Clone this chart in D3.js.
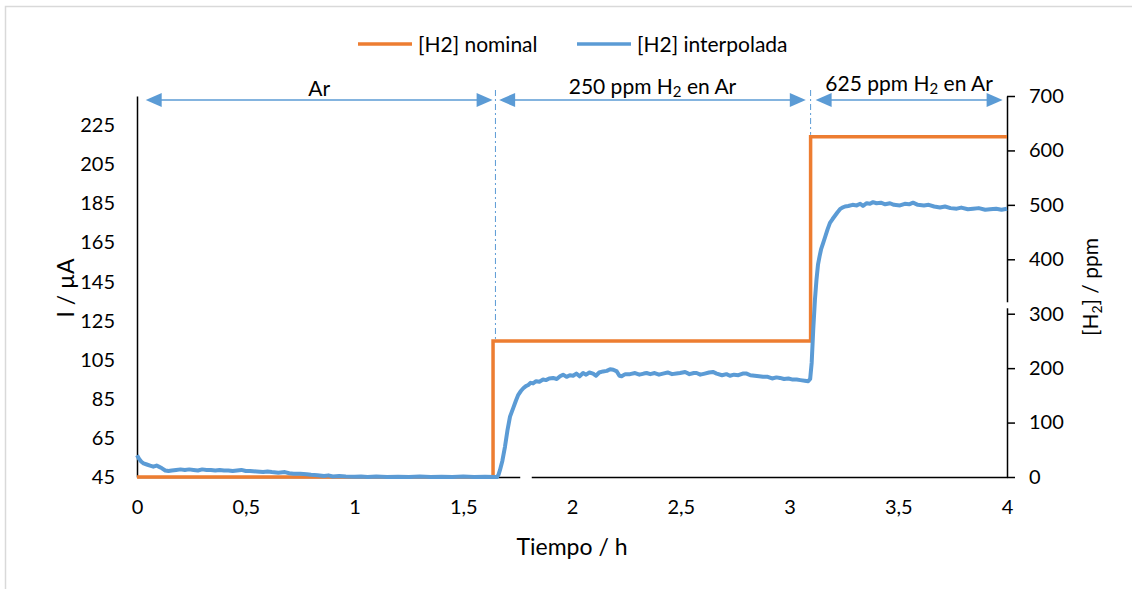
<!DOCTYPE html>
<html>
<head>
<meta charset="utf-8">
<script src="https://cdn.jsdelivr.net/npm/d3@7"></script>
<style>
  body { margin: 0; background: #fff; }
  svg text { font-family: Lato, Carlito, Calibri, sans-serif; fill: #000; }
</style>
</head>
<body>
<div class="chart"></div>
<script>
// [H2] nominal: step levels (ppm) starting at each time (h)
const nominalTime = [0, 1.637, 3.097, 4];
const nominalPpm = [0, 250, 625, 625];

// [H2] interpolada as [time (h), ppm]
const interpolada = [
  [0, 40], [0.01, 33], [0.02, 28], [0.03, 25], [0.045, 23], [0.06, 21], [0.075, 19], [0.09, 21],
  [0.1, 19], [0.115, 16], [0.13, 12], [0.145, 11], [0.16, 12], [0.18, 13], [0.2, 14], [0.22, 13],
  [0.24, 14], [0.26, 13], [0.28, 12], [0.3, 14], [0.32, 13], [0.34, 13], [0.36, 12], [0.38, 13],
  [0.4, 12], [0.42, 12], [0.44, 11], [0.46, 12], [0.48, 13], [0.5, 11], [0.52, 11], [0.55, 10],
  [0.58, 9], [0.6, 10], [0.62, 9], [0.65, 8], [0.68, 9], [0.7, 7], [0.72, 6], [0.75, 6],
  [0.78, 5], [0.8, 4], [0.83, 3], [0.86, 2], [0.88, 3], [0.9, 1], [0.93, 2], [0.96, 1],
  [1.0, 0.5], [1.03, 1], [1.06, 0], [1.1, 1], [1.15, 0], [1.2, 0.5], [1.25, 0], [1.3, 1],
  [1.35, 0], [1.4, 0.5], [1.45, 0], [1.5, 1], [1.55, 0], [1.6, 0.5], [1.645, 0], [1.655, 0],
  [1.662, 4], [1.669, 13], [1.68, 30], [1.692, 56], [1.703, 85], [1.715, 111], [1.73, 127], [1.742, 140],
  [1.753, 151], [1.765, 158], [1.776, 163], [1.788, 167], [1.799, 169], [1.81, 173], [1.821, 172], [1.835, 176],
  [1.85, 175], [1.867, 179], [1.88, 178], [1.895, 181], [1.913, 182], [1.93, 180], [1.945, 185], [1.959, 188],
  [1.975, 184], [1.99, 187], [2.005, 186], [2.02, 190], [2.035, 185], [2.051, 191], [2.065, 188], [2.08, 192],
  [2.097, 190], [2.11, 186], [2.125, 192], [2.143, 194], [2.16, 195], [2.175, 198], [2.19, 197], [2.206, 194],
  [2.218, 186], [2.228, 185], [2.245, 189], [2.267, 189], [2.29, 191], [2.31, 188], [2.33, 190], [2.343, 191],
  [2.36, 189], [2.38, 191], [2.4, 188], [2.418, 190], [2.44, 192], [2.46, 189], [2.48, 190], [2.497, 191],
  [2.52, 193], [2.54, 189], [2.56, 191], [2.573, 191], [2.59, 188], [2.61, 190], [2.63, 192], [2.648, 193],
  [2.665, 190], [2.69, 187], [2.71, 189], [2.726, 186], [2.745, 188], [2.765, 187], [2.785, 190], [2.803, 190],
  [2.82, 187], [2.84, 186], [2.86, 185], [2.878, 184], [2.9, 184], [2.92, 181], [2.94, 183], [2.956, 182],
  [2.975, 180], [2.995, 181], [3.015, 179], [3.033, 179], [3.05, 178], [3.07, 177], [3.086, 176], [3.095, 180],
  [3.102, 210], [3.109, 270], [3.117, 326], [3.124, 362], [3.131, 390], [3.138, 405], [3.145, 418], [3.155, 430],
  [3.163, 440], [3.175, 455], [3.186, 467], [3.198, 474], [3.209, 480], [3.22, 486], [3.232, 492], [3.243, 495],
  [3.255, 497], [3.27, 498], [3.29, 500], [3.309, 499], [3.325, 502], [3.338, 498], [3.355, 503], [3.37, 502],
  [3.384, 505], [3.4, 503], [3.42, 504], [3.44, 501], [3.462, 503], [3.48, 500], [3.508, 499], [3.53, 502],
  [3.55, 501], [3.568, 504], [3.59, 500], [3.618, 499], [3.64, 500], [3.665, 497], [3.692, 495], [3.715, 497],
  [3.74, 494], [3.769, 493], [3.79, 495], [3.82, 492], [3.844, 493], [3.87, 494], [3.9, 491], [3.922, 492],
  [3.95, 493], [3.975, 491], [4.0, 493]
];

// tick labels
const xTicks = [0, 0.5, 1, 1.5, 2, 2.5, 3, 3.5, 4];
const leftTicks = [45, 65, 85, 105, 125, 145, 165, 185, 205, 225];
const rightTicks = [0, 100, 200, 300, 400, 500, 600, 700];

// gas phases shown with arrows above the plot (times in h)
const phaseLabel = [["Ar"], ["250 ppm H", "2", " en Ar"], ["625 ppm H", "2", " en Ar"]];
const phaseStart = [0.04, 1.665, 3.12];
const phaseEnd = [1.635, 3.075, 3.98];
const changeTime = [1.648, 3.097];
const changePpm = [250, 625];

const legendNames = ["[H2] nominal", "[H2] interpolada"];
const colors = ["#ED7D31", "#5B9BD5"];

const W = 1132, H = 589;
const svg = d3.select(".chart").append("svg").attr("width", W).attr("height", H);

// outer chart-area border (only top/left visible in the frame)
svg.append("rect").attr("x", 5.5).attr("y", 6.5).attr("width", W + 20).attr("height", H + 20)
  .attr("fill", "none").attr("stroke", "#d9d9d9").attr("stroke-width", 1.5);

const x = d3.scaleLinear().domain([0, 4]).range([137, 1007]);
const yL = d3.scaleLinear().domain([45, 240]).range([477, 96]);
const yR = d3.scaleLinear().domain([0, 700]).range([477, 96]);

const fmt = (d) => String(d).replace(".", ",");

// axes
const gx = svg.append("g").attr("transform", `translate(0, ${yL.range()[0]})`)
  .call(d3.axisBottom(x).tickValues(xTicks).tickFormat(fmt).tickSize(0).tickPadding(23));
const gl = svg.append("g").attr("transform", `translate(${x(0)}, 0)`)
  .call(d3.axisLeft(yL).tickValues(leftTicks).tickSize(0).tickPadding(22));
const gr = svg.append("g").attr("transform", `translate(${x(4)}, 0)`)
  .call(d3.axisRight(yR).tickValues(rightTicks).tickSizeInner(8).tickSizeOuter(0).tickPadding(14));

[gx, gl, gr].forEach((g) => {
  g.selectAll("text").style("font-size", "20px").attr("fill", "#000");
  g.selectAll("path, line").attr("stroke", "#000").attr("stroke-width", 1.5);
});

// axis breaks
svg.append("rect").attr("x", x(1.762)).attr("y", yL(45) - 3).attr("width", x(1.815) - x(1.762)).attr("height", 6).attr("fill", "#fff");
svg.append("rect").attr("x", x(4) - 3).attr("y", yR(321)).attr("width", 6).attr("height", yR(310) - yR(321)).attr("fill", "#fff");

// axis titles
svg.append("text").attr("x", 572).attr("y", 555).attr("text-anchor", "middle")
  .style("font-size", "23px").text("Tiempo / h");
svg.append("text").attr("transform", "translate(74, 288) rotate(-90)").attr("text-anchor", "middle")
  .style("font-size", "23px").text("I / µA");
const rt = svg.append("text").attr("transform", "translate(1098, 287) rotate(-90)").attr("text-anchor", "middle")
  .style("font-size", "21px");
rt.append("tspan").text("[H");
rt.append("tspan").attr("baseline-shift", "-4").style("font-size", "14px").text("2");
rt.append("tspan").text("] / ppm");

// series
const line = d3.line().x((d) => x(d[0])).y((d) => yR(d[1]));
svg.append("path")
  .datum(nominalTime.map((t, i) => [t, nominalPpm[i]]))
  .attr("d", line.curve(d3.curveStepAfter))
  .attr("fill", "none").attr("stroke", colors[0]).attr("stroke-width", 3.5);
svg.append("path")
  .datum(interpolada)
  .attr("d", d3.line().x((d) => x(d[0])).y((d) => yR(d[1])))
  .attr("fill", "none").attr("stroke", colors[1]).attr("stroke-width", 4)
  .attr("stroke-linejoin", "round");

// phase change markers (dash-dot)
svg.selectAll(".marker").data(changeTime).enter().append("line")
  .attr("class", "marker")
  .attr("x1", (d) => x(d)).attr("x2", (d) => x(d))
  .attr("y1", yR(700) - 6).attr("y2", (d, i) => yR(changePpm[i]) - 2)
  .attr("stroke", colors[1]).attr("stroke-width", 1).attr("stroke-dasharray", "6,3,2,3");

// phase arrows
const arrowY = 100, headL = 16, headW = 7;
const phases = svg.selectAll(".phase").data(phaseLabel).enter().append("g").attr("class", "phase");
phases.append("line")
  .attr("x1", (d, i) => x(phaseStart[i]) + headL - 2).attr("x2", (d, i) => x(phaseEnd[i]) - headL + 2)
  .attr("y1", arrowY).attr("y2", arrowY)
  .attr("stroke", colors[1]).attr("stroke-width", 1.5);
phases.append("path")
  .attr("d", (d, i) => {
    const a = x(phaseStart[i]);
    return `M${a},${arrowY}L${a + headL},${arrowY - headW}L${a + headL},${arrowY + headW}Z`;
  })
  .attr("fill", colors[1]);
phases.append("path")
  .attr("d", (d, i) => {
    const b = x(phaseEnd[i]);
    return `M${b},${arrowY}L${b - headL},${arrowY - headW}L${b - headL},${arrowY + headW}Z`;
  })
  .attr("fill", colors[1]);
const labelDy = [-4, -6, -9];
const lt = phases.append("text")
  .attr("x", (d, i) => x((phaseStart[i] + phaseEnd[i]) / 2))
  .attr("y", (d, i) => arrowY + labelDy[i])
  .attr("text-anchor", "middle").style("font-size", "21px");
lt.each(function (parts) {
  const t = d3.select(this);
  parts.forEach((p, j) => {
    const s = t.append("tspan").text(p);
    if (j === 1) s.attr("baseline-shift", "-3").style("font-size", "15px");
  });
});

// legend
const legendX = [358, 577];
const lg = svg.selectAll(".legend").data(legendNames).enter().append("g").attr("class", "legend")
  .attr("transform", (d, i) => `translate(${legendX[i]}, 44)`);
lg.append("line").attr("x1", 0).attr("x2", 54).attr("y1", 0).attr("y2", 0)
  .attr("stroke", (d, i) => colors[i]).attr("stroke-width", 3.5);
lg.append("text").attr("x", 60).attr("y", 7.5).style("font-size", "21px").text((d) => d);
</script>
</body>
</html>
